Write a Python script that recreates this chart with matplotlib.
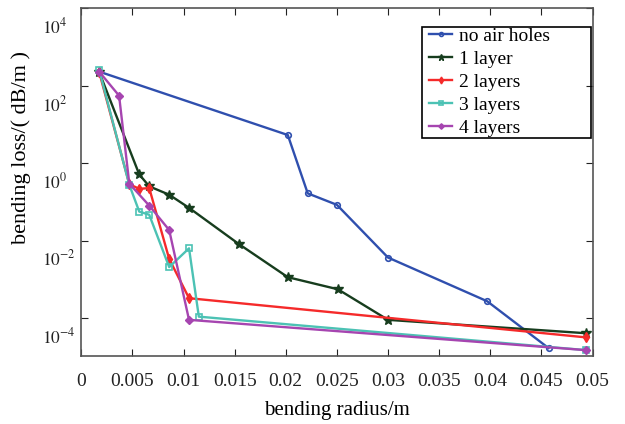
import matplotlib
matplotlib.use("Agg")
import matplotlib.pyplot as plt
import matplotlib.transforms as mtransforms
from matplotlib.patches import Rectangle

plt.rcParams['font.family'] = ['Liberation Serif', 'DejaVu Serif']
plt.rcParams['mathtext.fontset'] = 'stix'

# bending radius (m) and bending loss (dB/m)
r_none = [0.00175, 0.0202, 0.02215, 0.025, 0.03, 0.0397, 0.0457]
loss_none = [234, 5.4, 0.168, 0.085, 0.0037, 2.75e-4, 1.7e-5]

r_1 = [0.00175, 0.00567, 0.00665, 0.0086, 0.01054, 0.0154, 0.0202, 0.0251, 0.03, 0.0494]
loss_1 = [230, 0.52, 0.255, 0.155, 0.071, 0.0083, 0.00115, 5.6e-4, 9.1e-5, 4.1e-5]

r_2 = [0.00175, 0.0047, 0.00567, 0.00665, 0.0086, 0.01054, 0.0494]
loss_2 = [230, 0.29, 0.22, 0.23, 0.0034, 3.3e-4, 3.2e-5]

r_3 = [0.00175, 0.0047, 0.00567, 0.00665, 0.0086, 0.01054, 0.0115, 0.0494]
loss_3 = [260, 0.28, 0.057, 0.047, 0.0021, 0.0064, 1.1e-4, 1.5e-5]

r_4 = [0.00175, 0.0037, 0.0047, 0.00665, 0.0086, 0.01054, 0.0494]
loss_4 = [234, 56, 0.3, 0.081, 0.019, 9.1e-5, 1.5e-5]

labels = ['no air holes', '1 layer', '2 layers', '3 layers', '4 layers']
xticks = [0, 0.005, 0.01, 0.015, 0.02, 0.025, 0.03, 0.035, 0.04, 0.045, 0.05]
xticklabels = ['0', '0.005', '0.01', '0.015', '0.02', '0.025', '0.03', '0.035', '0.04', '0.045', '0.05']
yticks = [1e-4, 1e-2, 1e0, 1e2, 1e4]

fig = plt.figure(figsize=(6.25, 4.24), dpi=100)
ax = fig.add_axes([0.13, 0.16, 0.818, 0.82])

ax.plot(r_none, loss_none, color='#2f4fae', lw=1.7, marker='o', ms=4, mfc='none', mew=1.2, label=labels[0])
ax.plot(r_1, loss_1, color='#173d1e', lw=1.7, marker='*', ms=7, label=labels[1])
ax.plot(r_2, loss_2, color='#f52a2a', lw=1.7, marker='d', ms=5, label=labels[2])
ax.plot(r_3, loss_3, color='#4cc2b4', lw=1.7, marker='s', ms=4, mfc='none', mew=1.2, label=labels[3])
ax.plot(r_4, loss_4, color='#a645b0', lw=1.7, marker='D', ms=4, label=labels[4])

ax.set_yscale('log')
ax.set_xlim(0, 0.05)
ax.set_ylim(1.05e-5, 1e4)
ax.set_xticks(xticks)
ax.set_xticklabels(xticklabels)
ax.set_yticks(yticks)
ax.set_yticklabels([r'$10^{%d}$' % p for p in (-4, -2, 0, 2, 4)])
ax.yaxis.set_minor_locator(matplotlib.ticker.NullLocator())
ax.tick_params(direction='in', length=5, colors='#222222', top=True, right=True)
ax.tick_params(axis='x', pad=12, labelsize=14)
ax.tick_params(axis='y', labelsize=12.5)

# y labels are left aligned and sit a bit lower than their ticks in the original
offset = mtransforms.ScaledTranslation(-0.34, -0.17, fig.dpi_scale_trans)
for lab in ax.get_yticklabels():
    lab.set_horizontalalignment('left')
    lab.set_transform(lab.get_transform() + offset)

for s in ax.spines.values():
    s.set_color('#555555')
    s.set_linewidth(1.2)

ax.set_xlabel('bending radius/m', fontsize=15, labelpad=8)
ax.set_ylabel('bending loss/( dB/m )', fontsize=16)
ax.yaxis.set_label_coords(-0.098, 0.6)

# legend box is wider than its entries, as in the original
leg = ax.legend(loc='upper left', bbox_to_anchor=(0.68, 0.946), fontsize=14,
                frameon=False, handlelength=1.2, handletextpad=0.35,
                labelspacing=0.28, borderpad=0.0, borderaxespad=0, markerscale=0.7)
ax.add_patch(Rectangle((0.666, 0.628), 0.332, 0.319, transform=ax.transAxes,
                       fill=False, edgecolor='black', lw=1.2, zorder=5))

fig.savefig('out.png', dpi=100)
